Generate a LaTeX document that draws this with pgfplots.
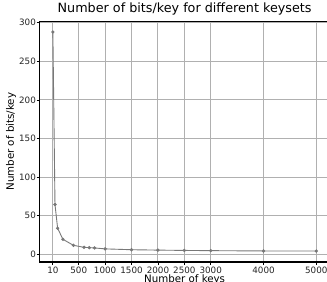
\documentclass[border=0pt]{standalone}
\usepackage{fontspec}
\setmainfont{DejaVu Sans}
\usepackage{pgfplots}
\pgfplotsset{compat=1.18}
\definecolor{gridc}{RGB}{176,176,176}
\definecolor{linec}{RGB}{120,120,120}
\begin{document}
\begin{tikzpicture}
\useasboundingbox (-39.7bp,-20bp) rectangle (287.3bp,262bp);
\clip (-39.7bp,-20bp) rectangle (287.3bp,262bp);
\begin{axis}[
  at={(0,0)}, anchor=south west,
  scale only axis,
  width=289.8bp, height=240.8bp,
  xmin=-239.5, xmax=5249.5,
  ymin=-9.9, ymax=302,
  xtick={10,500,1000,1500,2000,2500,3000,4000,5000},
  xticklabels={10,500,1000,1500,2000,2500,3000,4000,5000},
  ytick={0,50,100,150,200,250,300},
  /pgf/number format/assume math mode=true,
  scaled ticks=false,
  tick pos=left,
  tick align=outside,
  major tick length=3bp,
  tick style={black, line width=0.8pt},
  axis line style={black, line width=1.4pt},
  grid=major,
  major grid style={gridc, line width=0.9pt},
  ticklabel style={font=\fontsize{8.8}{10}\selectfont, text=black!85},
  xticklabel style={inner sep=1.5bp},
  yticklabel style={inner sep=0.6bp},
  title={Number of bits/key for different keysets},
  title style={at={(axis description cs:0.5,1)}, anchor=base, yshift=3bp, inner sep=0pt, font=\fontsize{12.8}{14}\selectfont},
  xlabel={Number of keys},
  xlabel style={at={(axis description cs:0.5,0)}, anchor=north, yshift=-13bp, inner sep=0pt, font=\fontsize{10.3}{12}\selectfont},
  ylabel={Number of bits/key},
  ylabel style={at={(axis description cs:-0.099,0.5)}, anchor=center, inner sep=0pt, font=\fontsize{10.3}{12}\selectfont},
]
\addplot[linec, line width=0.9pt, mark=*, mark size=1.2pt, mark options={fill=linec, draw=linec}] coordinates {
(10,288) (50,64.6) (100,33.8) (200,19.5) (400,11.7) (600,9.1) (700,8.7) (800,8.3) (1000,7.1) (1500,6.0) (2000,5.5) (2500,5.1) (3000,4.8) (4000,4.4) (5000,4.3)
};
\end{axis}
\end{tikzpicture}
\end{document}
